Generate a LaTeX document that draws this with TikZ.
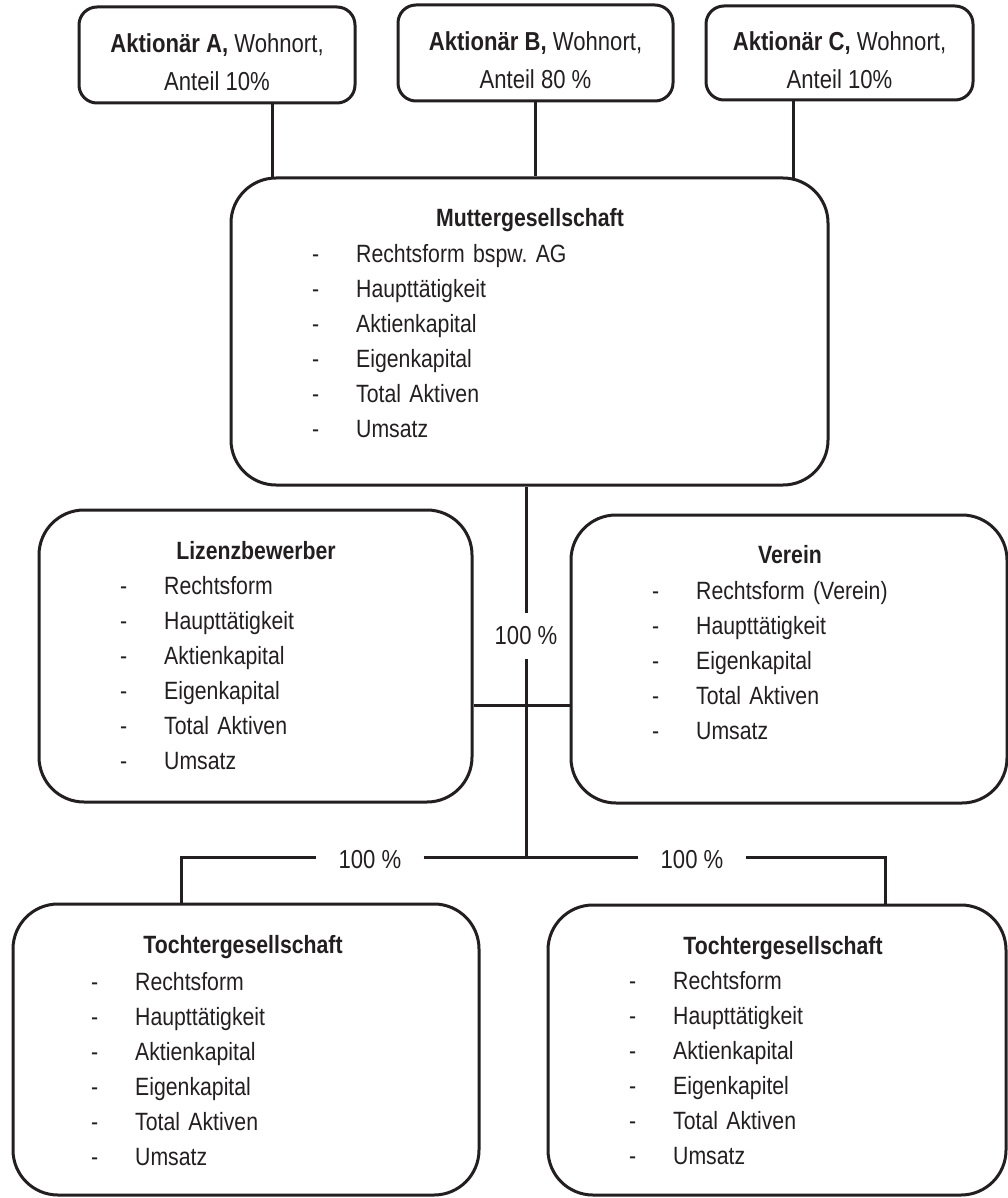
\documentclass[tikz,border=0pt]{standalone}
\usepackage{fontspec}
\setmainfont{Liberation Sans}[FakeStretch=0.85]
\definecolor{ink}{RGB}{35,31,32}
\frenchspacing
\newcommand{\bodysize}{\fontsize{25}{35}\selectfont}
\newcommand{\spiegel}{\makebox[44pt][l]{-}}

\begin{document}
\begin{tikzpicture}
  [x=1pt, y=-1pt, node distance=35pt, color=ink,
   orgbox/.style={draw, line width=3pt, rounded corners=45pt, inner sep=0pt},
   holder/.style={draw, line width=3pt, rounded corners=18pt, align=center,
     text height=72pt, font=\fontsize{26}{38}\selectfont},
   boxtitle/.style={font=\bodysize\bfseries, anchor=base, inner sep=0pt},
   item/.style={font=\bodysize, anchor=base west, inner sep=0pt, text width=320pt,
     align=left, text height=19pt, text depth=6pt},
   share/.style={font=\fontsize{26}{30}\selectfont, inner xsep=22pt, inner ysep=14pt},
   link/.style={line width=3pt}]

\useasboundingbox (0,0) rectangle (1008,1198);

%%%  nodes

% shareholders
\node [holder, minimum width=276pt, minimum height=96pt] (aktA) at (217,55) {\textbf{Aktionär A,} Wohnort,\\Anteil 10\%};
\node [holder, minimum width=275pt, minimum height=96pt] (aktB) at (535.5,53) {\textbf{Aktionär B,} Wohnort,\\Anteil 80 \%};
\node [holder, minimum width=267pt, minimum height=94pt] (aktC) at (839.5,53) {\textbf{Aktionär C,} Wohnort,\\Anteil 10\%};

% parent
\node [orgbox, minimum width=597pt, minimum height=307pt] (mutter) at (529.5,331.5) {};
\node [boxtitle] (mutterT) at (530,227) {Muttergesellschaft};
\node [item] (m1) at (312,262) {\spiegel Rechtsform bspw. AG};
\node [item, below of=m1] (m2) {\spiegel Haupttätigkeit};
\node [item, below of=m2] (m3) {\spiegel Aktienkapital};
\node [item, below of=m3] (m4) {\spiegel Eigenkapital};
\node [item, below of=m4] (m5) {\spiegel Total Aktiven};
\node [item, below of=m5] (m6) {\spiegel Umsatz};

% licence applicant
\node [orgbox, minimum width=433pt, minimum height=292pt] (lizenz) at (255.5,656) {};
\node [boxtitle] (lizenzT) at (256,559) {Lizenzbewerber};
\node [item] (l1) at (120,594) {\spiegel Rechtsform};
\node [item, below of=l1] (l2) {\spiegel Haupttätigkeit};
\node [item, below of=l2] (l3) {\spiegel Aktienkapital};
\node [item, below of=l3] (l4) {\spiegel Eigenkapital};
\node [item, below of=l4] (l5) {\spiegel Total Aktiven};
\node [item, below of=l5] (l6) {\spiegel Umsatz};

% club
\node [orgbox, minimum width=436pt, minimum height=288pt] (verein) at (789,659) {};
\node [boxtitle] (vereinT) at (790,563) {Verein};
\node [item] (v1) at (652,599) {\spiegel Rechtsform (Verein)};
\node [item, below of=v1] (v2) {\spiegel Haupttätigkeit};
\node [item, below of=v2] (v3) {\spiegel Eigenkapital};
\node [item, below of=v3] (v4) {\spiegel Total Aktiven};
\node [item, below of=v4] (v5) {\spiegel Umsatz};

% subsidiaries
\node [orgbox, minimum width=466pt, minimum height=291pt] (tochterL) at (246,1049.5) {};
\node [boxtitle] (tochterLT) at (243,953) {Tochtergesellschaft};
\node [item] (a1) at (91,990) {\spiegel Rechtsform};
\node [item, below of=a1] (a2) {\spiegel Haupttätigkeit};
\node [item, below of=a2] (a3) {\spiegel Aktienkapital};
\node [item, below of=a3] (a4) {\spiegel Eigenkapital};
\node [item, below of=a4] (a5) {\spiegel Total Aktiven};
\node [item, below of=a5] (a6) {\spiegel Umsatz};

\node [orgbox, minimum width=458pt, minimum height=290pt] (tochterR) at (777,1050) {};
\node [boxtitle] (tochterRT) at (783,954) {Tochtergesellschaft};
\node [item] (b1) at (629,989) {\spiegel Rechtsform};
\node [item, below of=b1] (b2) {\spiegel Haupttätigkeit};
\node [item, below of=b2] (b3) {\spiegel Aktienkapital};
\node [item, below of=b3] (b4) {\spiegel Eigenkapitel};
\node [item, below of=b4] (b5) {\spiegel Total Aktiven};
\node [item, below of=b5] (b6) {\spiegel Umsatz};

% shares
\node [share] (pctM) at (526,636) {100 \%};
\node [share] (pctL) at (370,860) {100 \%};
\node [share] (pctR) at (692,860) {100 \%};

% junctions
\coordinate (ma) at (272,178);
\coordinate (mc) at (793,178);
\coordinate (lv) at (526,705);
\coordinate (jm) at (526,857);
\coordinate (jl) at (181,857);
\coordinate (jr) at (885,857);

%%%  edges

% shareholders to parent
\draw [link] (aktA.south -| ma) to (ma);
\draw [link] (aktB.south) to (aktB.south |- mutter.north);
\draw [link] (aktC.south -| mc) to (mc);

% parent down
\draw [link] (mutter.south -| jm) to (pctM.north);
\draw [link] (pctM.south) to (jm);
\draw [link] (lizenz.east |- lv) to (verein.west |- lv);

% subsidiaries
\draw [link] (tochterL.north -| jl) to (jl) to (pctL.west |- jl);
\draw [link] (pctL.east |- jl) to (pctR.west |- jr);
\draw [link] (pctR.east |- jr) to (jr) to (tochterR.north -| jr);

\end{tikzpicture}
\end{document}
